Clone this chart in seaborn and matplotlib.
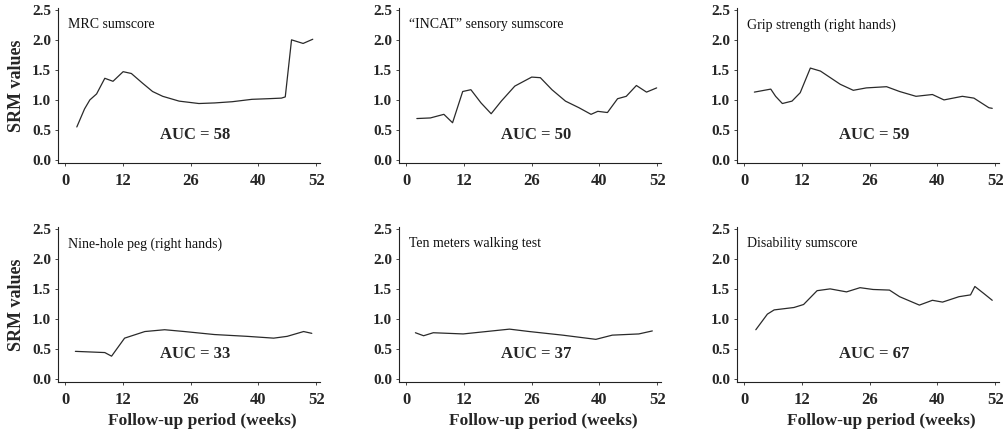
import matplotlib
matplotlib.use("Agg")
import matplotlib.pyplot as plt
import seaborn as sns
import pandas as pd

# ---- data ----
titles = ["MRC sumscore", "\u201cINCAT\u201d sensory sumscore", "Grip strength (right hands)",
          "Nine-hole peg (right hands)", "Ten meters walking test", "Disability sumscore"]
auc_values = [58, 50, 59, 33, 37, 67]
x_ticks = [0, 12, 26, 40, 52]
y_ticks = [0.0, 0.5, 1.0, 1.5, 2.0, 2.5]

mrc_weeks = [2.4, 4, 5.1, 6.5, 8.2, 9.9, 12, 13.7, 16, 18.1, 20.2, 23.6, 27.7, 31, 34.6, 38.7, 42, 44.8, 45.6, 46.9, 49.3, 51.3]
mrc_vals = [0.55, 0.85, 1.00, 1.10, 1.36, 1.31, 1.47, 1.44, 1.28, 1.14, 1.06, 0.98, 0.94, 0.95, 0.97, 1.01, 1.02, 1.03, 1.05, 2.00, 1.94, 2.01]

incat_weeks = [2.2, 5.0, 7.8, 9.6, 11.7, 13.4, 15.5, 17.6, 19.7, 22.5, 26.0, 27.8, 30.2, 33.0, 35.8, 38.3, 39.7, 41.7, 43.8, 45.6, 47.7, 49.8, 51.9]
incat_vals = [0.69, 0.70, 0.76, 0.62, 1.14, 1.17, 0.95, 0.77, 0.98, 1.23, 1.38, 1.37, 1.17, 0.98, 0.87, 0.76, 0.81, 0.79, 1.02, 1.06, 1.24, 1.13, 1.20]

grip_weeks = [2.1, 5.5, 6.5, 7.9, 9.9, 11.6, 13.7, 15.8, 19.9, 22.6, 25.3, 29.5, 32.2, 35.6, 39.0, 41.4, 45.2, 47.6, 50.7, 51.4]
grip_vals = [1.13, 1.18, 1.06, 0.94, 0.98, 1.12, 1.53, 1.48, 1.26, 1.16, 1.20, 1.22, 1.14, 1.06, 1.09, 1.00, 1.06, 1.03, 0.87, 0.86]

peg_weeks = [2.1, 8.2, 9.6, 12.3, 16.5, 20.6, 24.7, 30.9, 37.7, 43.2, 46.0, 49.4, 51.1]
peg_vals = [0.46, 0.44, 0.38, 0.68, 0.79, 0.82, 0.79, 0.74, 0.71, 0.68, 0.71, 0.79, 0.76]

walk_weeks = [1.9, 3.6, 5.6, 11.8, 16.6, 21.4, 25.5, 32.4, 39.3, 42.7, 48.2, 51.0]
walk_vals = [0.77, 0.72, 0.77, 0.75, 0.79, 0.83, 0.79, 0.73, 0.66, 0.73, 0.75, 0.80]

dis_weeks = [2.4, 4.8, 6.2, 10.3, 12.3, 15.1, 17.8, 21.2, 24.0, 26.7, 30.1, 32.2, 36.3, 39.0, 41.1, 44.5, 46.9, 47.8, 49.7, 51.4]
dis_vals = [0.82, 1.08, 1.15, 1.19, 1.24, 1.47, 1.50, 1.45, 1.52, 1.49, 1.48, 1.37, 1.23, 1.31, 1.28, 1.37, 1.40, 1.54, 1.42, 1.31]

series = [(mrc_weeks, mrc_vals), (incat_weeks, incat_vals), (grip_weeks, grip_vals),
          (peg_weeks, peg_vals), (walk_weeks, walk_vals), (dis_weeks, dis_vals)]

# ---- style ----
sns.set_style("ticks")
plt.rcParams['font.family'] = ['Liberation Serif', 'DejaVu Serif']

W, H = 1008, 434
fig = plt.figure(figsize=(W / 100, H / 100), dpi=100)

col_left = [58, 399, 737]
ax_w = 262
row_bottom = [271, 52]
ax_h = 155

for i, ((wk, vals), title, auc) in enumerate(zip(series, titles, auc_values)):
    r, c = divmod(i, 3)
    ax = fig.add_axes([col_left[c] / W, row_bottom[r] / H, ax_w / W, ax_h / H])
    df = pd.DataFrame({"week": wk, "srm": vals})
    sns.lineplot(data=df, x="week", y="srm", ax=ax, color="#2a2a2a", lw=0.9)
    ax.set_xlim(-1.5, 52.8)
    ax.set_ylim(-0.05, 2.53)
    ax.set_xticks(x_ticks)
    ax.set_xticklabels([str(t) for t in x_ticks], fontsize=12, fontweight="bold")
    ax.set_yticks(y_ticks)
    ax.set_yticklabels([f"{t:.1f}" for t in y_ticks], fontsize=11, fontweight="bold")
    ax.tick_params(axis="y", length=2, width=0.6, pad=3)
    ax.tick_params(axis="x", length=2, width=0.6, pad=5)
    sns.despine(ax=ax)
    for s in ("left", "bottom"):
        ax.spines[s].set_linewidth(0.8)
        ax.spines[s].set_color("#222222")
    ax.text(0.5, 2.25, title, fontsize=10, ha="left", va="center", color="#111111")
    ax.text(27, 0.42, f"AUC = {auc}", fontsize=12, fontweight="bold", ha="center", va="center")
    if c == 0:
        ax.set_ylabel("SRM values", fontsize=13, fontweight="bold")
        ax.yaxis.set_label_coords(-0.125, 0.5)
    else:
        ax.set_ylabel("")
    if r == 1:
        ax.set_xlabel("Follow-up period (weeks)", fontsize=12.5, fontweight="bold")
        ax.xaxis.set_label_coords(0.55, -0.2)
    else:
        ax.set_xlabel("")

fig.savefig("out.png", dpi=100)
